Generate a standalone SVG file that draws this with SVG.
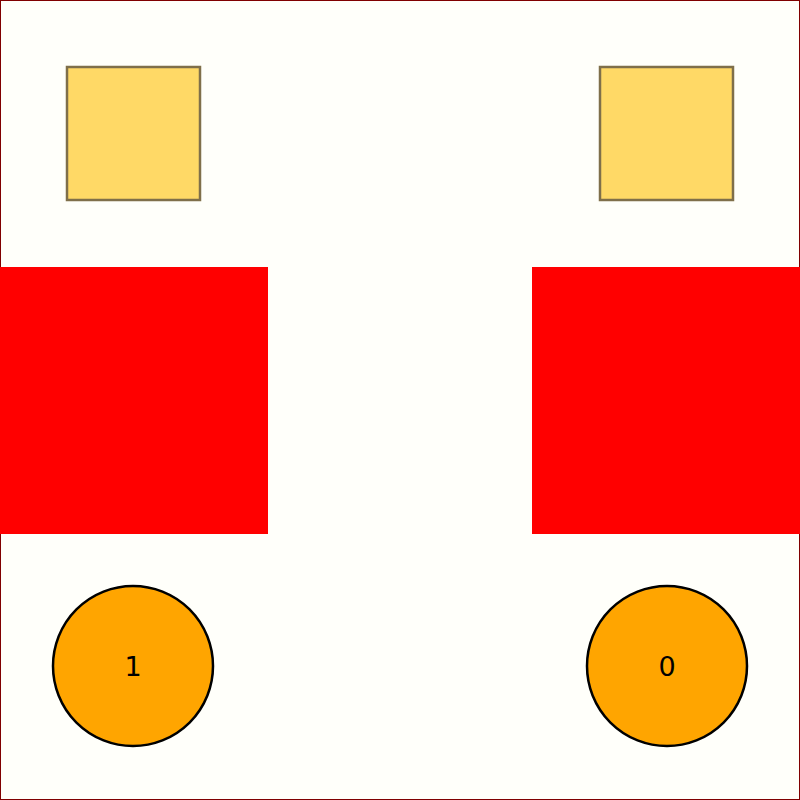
<svg xmlns="http://www.w3.org/2000/svg" width="800" height="800" viewBox="0 0 800 800">
<style>
.sq{fill:#ffd966;stroke:#7f6f4a;stroke-width:2.5}
.red{fill:#ff0000}
.node circle{fill:#ffa500;stroke:#000;stroke-width:2.5}
.node text{font-family:"DejaVu Sans",sans-serif;font-size:27px;fill:#000;text-anchor:middle;dominant-baseline:central}
</style>
<rect x="0.5" y="0.5" width="799" height="799" fill="#fffffa" stroke="#800000" stroke-width="1"/>
<g id="square-left"><rect class="sq" x="67" y="67" width="133" height="133"/></g>
<g id="square-right"><rect class="sq" x="600" y="67" width="133" height="133"/></g>
<g id="red-left"><rect class="red" x="0" y="267" width="268" height="267"/></g>
<g id="red-right"><rect class="red" x="532" y="267" width="268" height="267"/></g>
<g id="node-1" class="node"><circle cx="133" cy="666" r="80"/><text x="133" y="666">1</text></g>
<g id="node-0" class="node"><circle cx="667" cy="666" r="80"/><text x="667" y="666">0</text></g>
<g id="connectors"></g>
</svg>
